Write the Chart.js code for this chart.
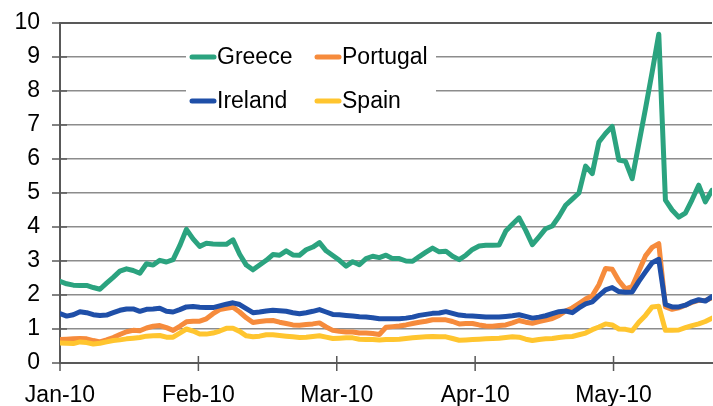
<!DOCTYPE html>
<html>
<head>
<meta charset="utf-8">
<script src="https://cdn.jsdelivr.net/npm/chart.js@4.4.1/dist/chart.umd.min.js"></script>
<style>
  body { margin: 0; background: #fff; }
  canvas { display: block; }
</style>
</head>
<body>
<canvas id="chartSpreads" width="713" height="406"></canvas>
<script>
// daily values, Jan 2010 - late May 2010
const greece = [2.40, 2.33, 2.29, 2.28, 2.28, 2.22, 2.17, 2.35, 2.52, 2.70,
  2.77, 2.72, 2.64, 2.92, 2.88, 3.02, 2.97, 3.04, 3.45, 3.93,
  3.65, 3.43, 3.52, 3.50, 3.49, 3.49, 3.62, 3.20, 2.88, 2.74,
  2.88, 3.02, 3.19, 3.17, 3.30, 3.18, 3.17, 3.33, 3.41, 3.54,
  3.30, 3.16, 3.02, 2.85, 2.98, 2.89, 3.07, 3.14, 3.10, 3.17,
  3.07, 3.07, 3.00, 2.99, 3.13, 3.26, 3.38, 3.27, 3.29, 3.14,
  3.04, 3.17, 3.34, 3.44, 3.46, 3.46, 3.47, 3.88, 4.08, 4.27,
  3.90, 3.48, 3.71, 3.95, 4.03, 4.31, 4.64, 4.82, 5.00, 5.79,
  5.57, 6.50, 6.75, 6.96, 5.97, 5.93, 5.42, 6.45, 7.48, 8.55,
  9.67, 4.79, 4.50, 4.29, 4.41, 4.80, 5.23, 4.74, 5.08];

const portugal = [0.69, 0.70, 0.71, 0.72, 0.71, 0.66, 0.62, 0.68, 0.75, 0.84,
  0.92, 0.96, 0.95, 1.03, 1.08, 1.10, 1.04, 0.96, 1.08, 1.21,
  1.23, 1.23, 1.30, 1.45, 1.57, 1.61, 1.64, 1.50, 1.33, 1.19,
  1.22, 1.24, 1.25, 1.20, 1.16, 1.12, 1.11, 1.13, 1.15, 1.18,
  1.06, 0.96, 0.93, 0.91, 0.91, 0.88, 0.88, 0.87, 0.84, 1.05,
  1.07, 1.09, 1.12, 1.16, 1.20, 1.23, 1.27, 1.27, 1.27, 1.22,
  1.15, 1.16, 1.16, 1.12, 1.09, 1.08, 1.10, 1.12, 1.18, 1.25,
  1.20, 1.17, 1.22, 1.26, 1.31, 1.40, 1.53, 1.62, 1.75, 1.88,
  1.98, 2.30, 2.78, 2.76, 2.42, 2.18, 2.25, 2.70, 3.15, 3.40,
  3.51, 1.65, 1.58, 1.62, 1.70, 1.78, 1.84, 1.84, 1.92];

const ireland = [1.45, 1.38, 1.42, 1.51, 1.48, 1.42, 1.40, 1.41, 1.48, 1.55,
  1.59, 1.59, 1.52, 1.58, 1.59, 1.61, 1.52, 1.50, 1.57, 1.65,
  1.66, 1.64, 1.63, 1.63, 1.68, 1.73, 1.77, 1.72, 1.60, 1.48,
  1.50, 1.53, 1.55, 1.54, 1.52, 1.48, 1.45, 1.48, 1.52, 1.57,
  1.50, 1.43, 1.42, 1.40, 1.38, 1.36, 1.35, 1.33, 1.30, 1.30,
  1.30, 1.30, 1.32, 1.35, 1.40, 1.43, 1.46, 1.47, 1.51, 1.46,
  1.41, 1.39, 1.38, 1.37, 1.35, 1.35, 1.35, 1.37, 1.39, 1.42,
  1.37, 1.32, 1.35, 1.39, 1.45, 1.51, 1.53, 1.48, 1.62, 1.74,
  1.80, 1.98, 2.15, 2.22, 2.10, 2.08, 2.09, 2.40, 2.68, 2.95,
  3.05, 1.72, 1.65, 1.65, 1.70, 1.80, 1.86, 1.82, 1.95];

const spain = [0.59, 0.58, 0.57, 0.62, 0.60, 0.56, 0.58, 0.62, 0.66, 0.68,
  0.71, 0.73, 0.75, 0.79, 0.80, 0.81, 0.76, 0.76, 0.88, 1.00,
  0.94, 0.85, 0.85, 0.88, 0.94, 1.02, 1.02, 0.93, 0.80, 0.77,
  0.79, 0.83, 0.83, 0.81, 0.79, 0.77, 0.75, 0.76, 0.78, 0.80,
  0.76, 0.72, 0.73, 0.74, 0.74, 0.70, 0.69, 0.69, 0.68, 0.69,
  0.69, 0.70, 0.72, 0.74, 0.76, 0.77, 0.78, 0.77, 0.77, 0.72,
  0.67, 0.68, 0.69, 0.70, 0.71, 0.72, 0.73, 0.75, 0.77, 0.76,
  0.70, 0.66, 0.69, 0.71, 0.72, 0.75, 0.77, 0.78, 0.83, 0.88,
  0.98, 1.06, 1.15, 1.12, 1.00, 0.99, 0.95, 1.20, 1.40, 1.65,
  1.67, 0.96, 0.96, 0.97, 1.04, 1.10, 1.15, 1.22, 1.32];

// day index where each month label sits
const monthTicks = [0, 20.8, 41.6, 62.4, 83.2];
const monthLabels = ['Jan-10', 'Feb-10', 'Mar-10', 'Apr-10', 'May-10'];

const axisColor = '#595959';
const gridColor = '#8c8c8c';
const fuente = { family: '"Liberation Sans", Arial, sans-serif', size: 23 };

const toPoints = (arr) => arr.map((v, i) => ({ x: i, y: v }));

const serie = (label, arr, color, order) => ({
    label: label,
    data: toPoints(arr),
    borderColor: color,
    backgroundColor: color,
    borderWidth: 5,
    pointRadius: 0,
    tension: 0,
    borderCapStyle: 'round',
    borderJoinStyle: 'round',
    order: order
});

// cross tick marks on both axes
const tickMarks = {
    id: 'tickMarks',
    beforeDatasetsDraw(chart) {
        const ctx = chart.ctx;
        const x = chart.scales.x;
        const y = chart.scales.y;
        ctx.save();
        ctx.strokeStyle = axisColor;
        ctx.lineWidth = 1.5;
        ctx.beginPath();
        y.ticks.forEach(t => {
            const py = y.getPixelForValue(t.value);
            ctx.moveTo(x.left - 8, py);
            ctx.lineTo(x.left + 7, py);
        });
        x.ticks.forEach(t => {
            const px = x.getPixelForValue(t.value);
            ctx.moveTo(px, y.bottom - 7);
            ctx.lineTo(px, y.bottom + 8);
        });
        ctx.stroke();
        ctx.restore();
    }
};

// legend box inside the plot, two columns
const legendBox = {
    id: 'legendBox',
    afterDraw(chart) {
        const ctx = chart.ctx;
        const top = chart.chartArea.top;
        const cols = [190, 315];
        const rows = [57, 101];
        ctx.save();
        ctx.fillStyle = '#fff';
        ctx.fillRect(186, top + 2, 250, 124 - top - 2);
        ctx.font = `${fuente.size}px ${fuente.family}`;
        ctx.textBaseline = 'middle';
        chart.data.datasets.forEach((ds, i) => {
            const cx = cols[i % 2];
            const cy = rows[Math.floor(i / 2)];
            ctx.strokeStyle = ds.borderColor;
            ctx.lineWidth = 5;
            ctx.lineCap = 'round';
            ctx.beginPath();
            ctx.moveTo(cx + 2, cy);
            ctx.lineTo(cx + 24, cy);
            ctx.stroke();
            ctx.fillStyle = '#000';
            ctx.fillText(ds.label, cx + 27, cy + 1);
        });
        ctx.restore();
    }
};

const canvas = document.getElementById('chartSpreads');
const context = canvas.getContext('2d');

const chartSpreads = new Chart(context, {
    type: 'line',
    data: {
        datasets: [
            serie('Greece', greece, '#2ba37f', 4),
            serie('Portugal', portugal, '#f68b3c', 3),
            serie('Ireland', ireland, '#1f4fa8', 2),
            serie('Spain', spain, '#ffc52f', 1)
        ]
    },
    options: {
        responsive: false,
        animation: false,
        devicePixelRatio: 1,
        layout: { padding: { top: 23, right: 1, left: 0, bottom: 0 } },
        plugins: {
            legend: { display: false },
            tooltip: { enabled: false }
        },
        scales: {
            x: {
                type: 'linear',
                min: 0,
                max: 98,
                afterBuildTicks: (scale) => {
                    scale.ticks = monthTicks.map(v => ({ value: v }));
                },
                afterFit: (scale) => {
                    scale.height = 43;
                    scale.paddingLeft = 0;
                    scale.paddingRight = 0;
                },
                grid: { display: false, drawTicks: false },
                border: { display: true, color: axisColor, width: 2 },
                ticks: {
                    autoSkip: false,
                    maxRotation: 0,
                    padding: 19,
                    color: '#000',
                    font: fuente,
                    callback: (value, index) => monthLabels[index]
                }
            },
            y: {
                min: 0,
                max: 10,
                afterFit: (scale) => {
                    scale.width = 60;
                    scale.paddingTop = 0;
                    scale.paddingBottom = 0;
                },
                grid: {
                    drawTicks: false,
                    color: (c) => c.tick && c.tick.value === 10 ? axisColor : gridColor,
                    lineWidth: (c) => c.tick && c.tick.value === 10 ? 2 : 1.5
                },
                border: { display: true, color: axisColor, width: 2 },
                ticks: {
                    stepSize: 1,
                    padding: 20,
                    color: '#000',
                    font: fuente
                }
            }
        }
    },
    plugins: [tickMarks, legendBox]
});
</script>
</body>
</html>
